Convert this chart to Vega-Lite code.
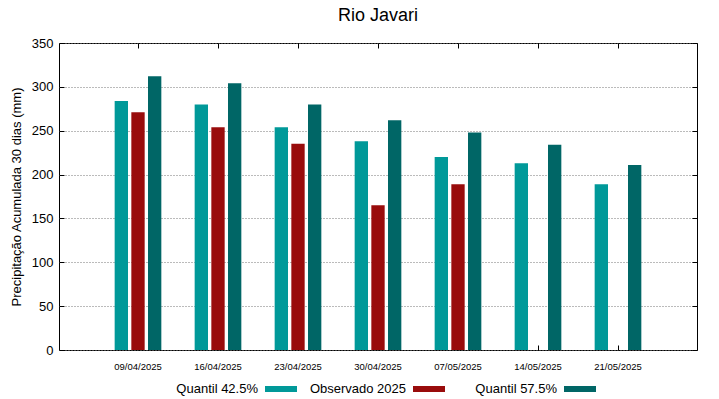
{
  "$schema": "https://vega.github.io/schema/vega-lite/v6.json",
  "width": 638,
  "height": 307,
  "autosize": "none",
  "padding": {"left": 59, "top": 43, "right": 22, "bottom": 49},
  "background": "white",
  "title": {"text": "Rio Javari", "fontSize": 18, "fontWeight": "normal", "font": "Liberation Sans", "color": "black", "offset": 12, "anchor": "middle"},
  "config": {
    "font": "Liberation Sans",
    "view": {"stroke": "black", "strokeWidth": 1},
    "axis": {"labelColor": "black", "titleColor": "black", "domainColor": "black", "tickColor": "black", "labelFont": "Liberation Sans", "titleFont": "Liberation Sans"}
  },
  "data": {"values": [
    {"date": "09/04/2025", "serie": "Quantil 42.5%", "value": 284},
    {"date": "09/04/2025", "serie": "Observado 2025", "value": 271},
    {"date": "09/04/2025", "serie": "Quantil 57.5%", "value": 312},
    {"date": "16/04/2025", "serie": "Quantil 42.5%", "value": 280},
    {"date": "16/04/2025", "serie": "Observado 2025", "value": 254},
    {"date": "16/04/2025", "serie": "Quantil 57.5%", "value": 304},
    {"date": "23/04/2025", "serie": "Quantil 42.5%", "value": 254},
    {"date": "23/04/2025", "serie": "Observado 2025", "value": 235},
    {"date": "23/04/2025", "serie": "Quantil 57.5%", "value": 280},
    {"date": "30/04/2025", "serie": "Quantil 42.5%", "value": 238},
    {"date": "30/04/2025", "serie": "Observado 2025", "value": 165},
    {"date": "30/04/2025", "serie": "Quantil 57.5%", "value": 262},
    {"date": "07/05/2025", "serie": "Quantil 42.5%", "value": 220},
    {"date": "07/05/2025", "serie": "Observado 2025", "value": 189},
    {"date": "07/05/2025", "serie": "Quantil 57.5%", "value": 248},
    {"date": "14/05/2025", "serie": "Quantil 42.5%", "value": 213},
    {"date": "14/05/2025", "serie": "Quantil 57.5%", "value": 234},
    {"date": "21/05/2025", "serie": "Quantil 42.5%", "value": 189},
    {"date": "21/05/2025", "serie": "Quantil 57.5%", "value": 211}
  ]},
  "encoding": {
    "x": {"field": "date", "type": "nominal", "sort": null,
          "scale": {"paddingInner": 0, "paddingOuter": 0.4875}},
    "xOffset": {"field": "serie", "type": "nominal",
          "scale": {"domain": ["Quantil 42.5%", "Observado 2025", "Quantil 57.5%"], "paddingInner": 0.2, "paddingOuter": 1.1}},
    "y": {"field": "value", "type": "quantitative", "scale": {"domain": [0, 350], "nice": false}}
  },
  "layer": [
    {
      "transform": [{"filter": "datum.serie !== 'Quantil 57.5%'"}],
      "mark": {"type": "bar"},
      "encoding": {
        "x": {"field": "date", "type": "nominal", "sort": null,
              "axis": {"title": null, "labelAngle": 0, "labelFontSize": 9.5, "tickSize": -5, "labelPadding": 16, "domain": false}},
        "y": {"field": "value", "type": "quantitative",
              "axis": {"title": "Precipitação Acumulada 30 dias (mm)", "titleFontSize": 13, "titleFontWeight": "normal", "labelFontSize": 13, "values": [0, 50, 100, 150, 200, 250, 300, 350], "tickSize": -5, "labelPadding": 11, "domain": false, "grid": true, "gridColor": "#777", "gridDash": [1, 2], "gridWidth": 1, "titlePadding": 8}},
        "color": {"field": "serie", "type": "nominal",
              "scale": {"domain": ["Quantil 42.5%", "Observado 2025"], "range": ["#009999", "#990c0c"]},
              "legend": {"title": null, "orient": "none", "legendX": 212, "legendY": 336, "direction": "horizontal",
                         "labelFontSize": 13, "labelColor": "black", "labelAlign": "right", "labelOffset": -33,
                         "symbolType": "M-1.6,-0.3H1.6V0.3H-1.6Z", "symbolSize": 400, "symbolStrokeWidth": 0, "columnPadding": 12}}
      }
    },
    {
      "transform": [{"filter": "datum.serie === 'Quantil 57.5%'"}],
      "mark": {"type": "bar"},
      "encoding": {
        "x": {"field": "date", "type": "nominal", "sort": null,
              "axis": {"orient": "top", "title": null, "labels": false, "tickSize": -5, "domain": false}},
        "y": {"field": "value", "type": "quantitative",
              "axis": {"orient": "right", "title": null, "labels": false, "values": [0, 50, 100, 150, 200, 250, 300, 350], "tickSize": -5, "domain": false, "grid": false}},
        "fill": {"field": "serie", "type": "nominal",
              "scale": {"domain": ["Quantil 57.5%"], "range": ["#006666"]},
              "legend": {"title": null, "orient": "none", "legendX": 511, "legendY": 336, "direction": "horizontal",
                         "labelFontSize": 13, "labelColor": "black", "labelAlign": "right", "labelOffset": -33,
                         "symbolType": "M-1.6,-0.3H1.6V0.3H-1.6Z", "symbolSize": 400, "symbolStrokeWidth": 0}}
      }
    }
  ],
  "resolve": {"axis": {"x": "independent", "y": "independent"}}
}
